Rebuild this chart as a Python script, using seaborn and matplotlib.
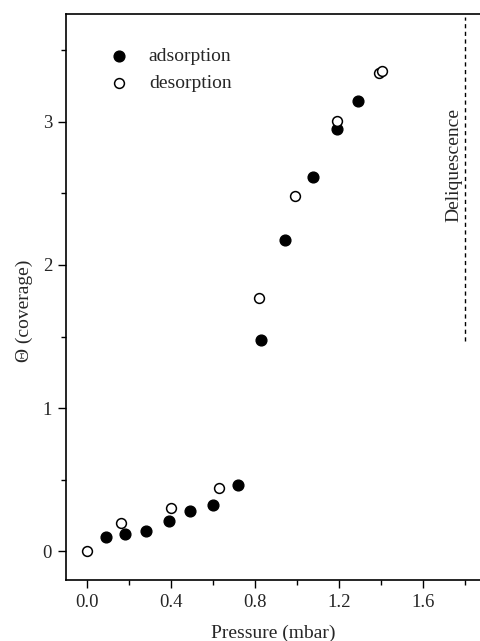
import matplotlib
matplotlib.use("Agg")
import matplotlib.pyplot as plt
import seaborn as sns
import pandas as pd

# adsorption branch (filled circles)
ads_p = [0.09, 0.18, 0.28, 0.39, 0.49, 0.60, 0.72, 0.83, 0.94, 1.075, 1.19, 1.29]
ads_theta = [0.10, 0.12, 0.145, 0.215, 0.28, 0.325, 0.465, 1.475, 2.175, 2.615, 2.95, 3.145]

# desorption branch (open circles)
des_p = [0.0, 0.16, 0.40, 0.63, 0.82, 0.99, 1.19, 1.39, 1.405]
des_theta = [0.0, 0.20, 0.30, 0.44, 1.77, 2.48, 3.005, 3.34, 3.35]

deliq_p = 1.8

sns.set_style("ticks")
plt.rcParams['font.family'] = ['Liberation Serif', 'DejaVu Serif']

ads = pd.DataFrame({"p": ads_p, "theta": ads_theta})
des = pd.DataFrame({"p": des_p, "theta": des_theta})

fig = plt.figure(figsize=(4.8, 6.41), dpi=100)
ax = fig.add_axes([0.1375, 0.095, 0.8625, 0.883])

sns.scatterplot(data=ads, x="p", y="theta", ax=ax, s=60, color="black",
                edgecolor="black", linewidth=1.0, label="adsorption", zorder=3)
sns.scatterplot(data=des, x="p", y="theta", ax=ax, s=50, facecolor="white",
                edgecolor="black", linewidth=1.1, label="desorption", zorder=3)

ax.plot([deliq_p, deliq_p], [1.47, 3.73], ls=(0, (3, 2.5)), color="black", lw=1.0)
ax.text(deliq_p - 0.055, 2.70, "Deliquescence", rotation=90, ha="center",
        va="center", fontsize=14)

ax.set_xlim(-0.1, 1.87)
ax.set_ylim(-0.2, 3.75)
ax.set_xticks([0.0, 0.4, 0.8, 1.2, 1.6])
ax.set_xticks([0.2, 0.6, 1.0, 1.4, 1.8], minor=True)
ax.set_yticks([0, 1, 2, 3])
ax.set_yticks([0.5, 1.5, 2.5, 3.5], minor=True)
ax.set_xticklabels(["0.0", "0.4", "0.8", "1.2", "1.6"])
ax.tick_params(axis="both", which="major", direction="out", length=6, width=1,
               labelsize=13.5, color="black", pad=4)
ax.tick_params(axis="both", which="minor", direction="out", length=3.5, width=1,
               color="black")
ax.set_xlabel("Pressure (mbar)", fontsize=14, labelpad=10)
ax.set_ylabel("Θ (coverage)", fontsize=14)
ax.yaxis.set_label_coords(-0.08, 0.475)
for side in ["left", "bottom", "top"]:
    ax.spines[side].set_linewidth(1.2)
    ax.spines[side].set_color("black")
ax.spines["right"].set_visible(False)

ax.legend(loc="upper left", bbox_to_anchor=(0.038, 0.972), frameon=False,
          fontsize=14, handletextpad=0.55, labelspacing=0.5)

fig.savefig("out.png", dpi=100)
